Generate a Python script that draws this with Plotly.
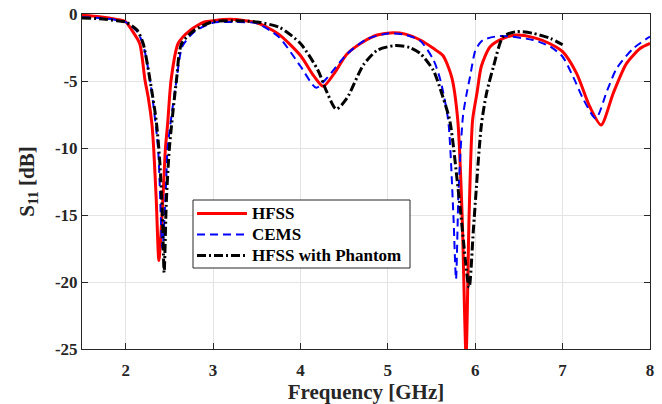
import plotly.graph_objects as go

# Reflection coefficient S11 (dB) versus frequency (GHz)
hfss_f = [1.5, 1.7, 1.9, 2.0, 2.07, 2.16, 2.22, 2.26, 2.30, 2.32, 2.35, 2.38, 2.425, 2.455, 2.48,
          2.52, 2.60, 2.74, 2.9, 3.0, 3.2, 3.5, 3.75, 4.0, 4.15, 4.26, 4.4, 4.53, 4.72,
          4.88, 5.06, 5.2, 5.37, 5.52, 5.63, 5.73, 5.80, 5.85, 5.895, 5.93, 5.97, 6.02,
          6.07, 6.17, 6.32, 6.47, 6.70, 6.85, 7.0, 7.16, 7.31, 7.44, 7.58, 7.73, 7.89, 8.0]
hfss_s = [-0.1, -0.2, -0.4, -0.57, -1.2, -2.2, -4.9, -6.3, -8.2, -10, -13.9, -18.4, -13.9, -10, -8.2,
          -4.9, -2.2, -1.2, -0.6, -0.5, -0.4, -0.65, -1.5, -3.1, -4.6, -5.4, -4.3, -3.0, -2.07,
          -1.57, -1.4, -1.5, -1.94, -2.56, -3.1, -4.7, -7.9, -15, -25.5, -15, -7.9, -5.9,
          -3.9, -2.44, -1.82, -1.57, -1.82, -2.2, -2.81, -4.43, -6.9, -8.28, -5.9, -3.7, -2.56, -2.19]

cems_f = [1.5, 1.7, 1.9, 2.0, 2.13, 2.20, 2.28, 2.37, 2.42, 2.46, 2.48, 2.58, 2.65, 2.79,
          3.0, 3.25, 3.5, 3.75, 4.0, 4.18, 4.3, 4.53, 4.75, 5.0, 5.2, 5.37, 5.52, 5.60,
          5.69, 5.75, 5.78, 5.81, 5.86, 5.90, 5.94, 6.0, 6.05, 6.09, 6.28, 6.66, 6.86,
          7.0, 7.12, 7.24, 7.38, 7.51, 7.62, 7.81, 8.0]
cems_s = [-0.25, -0.3, -0.45, -0.6, -1.3, -2.3, -5.0, -10, -17.5, -13, -10, -5, -2.4, -1.3,
          -0.65, -0.6, -0.7, -1.7, -3.9, -5.5, -4.8, -3.0, -1.9, -1.45, -1.55, -2.0, -3.4, -4.9,
          -7.9, -15, -19.8, -13, -7.6, -6.0, -4.7, -2.75, -2.2, -1.94, -1.64, -1.94, -2.44,
          -3.19, -4.68, -6.4, -7.8, -5.7, -4.05, -2.56, -1.69]

phantom_f = [1.5, 1.7, 1.9, 2.0, 2.13, 2.20, 2.28, 2.35, 2.39, 2.42, 2.44, 2.465, 2.50, 2.58,
             2.64, 2.79, 3.0, 3.25, 3.5, 3.76, 4.0, 4.2, 4.3, 4.41, 4.53, 4.72, 4.88, 5.08,
             5.25, 5.37, 5.52, 5.63, 5.71, 5.82, 5.93, 5.98, 6.07, 6.13, 6.21, 6.32, 6.47,
             6.66, 6.86, 7.0]
phantom_s = [-0.3, -0.35, -0.5, -0.6, -1.2, -2.2, -5.0, -8.0, -11, -15, -19.3, -14, -10, -5,
             -2.2, -1.2, -0.57, -0.5, -0.6, -1.0, -2.2, -4.2, -5.8, -7.1, -6.3, -3.8, -2.7, -2.36,
             -2.5, -2.94, -4.2, -6.2, -8.0, -14, -20.4, -16, -8.3, -5.9, -3.9, -1.69, -1.32,
             -1.44, -1.82, -2.3]

series_names = ["HFSS", "CEMS", "HFSS with Phantom"]
x_ticks = [2, 3, 4, 5, 6, 7, 8]
y_ticks = [0, -5, -10, -15, -20, -25]

FONT = "Liberation Serif"
AXIS_COLOR = "#262626"
GRID_COLOR = "#e4e4e4"

W, H = 662, 404
M_L, M_R, M_T, M_B = 82, 12, 14, 55

line_styles = [
    dict(color="#ff0000", width=3),
    dict(color="#0000ff", width=2, dash="8px,5px"),
    dict(color="#000000", width=3, dash="9px,3px,2px,3px"),
]

fig = go.Figure()
for name, xs, ys, style in zip(series_names,
                               [hfss_f, cems_f, phantom_f],
                               [hfss_s, cems_s, phantom_s],
                               line_styles):
    fig.add_trace(go.Scatter(
        x=xs, y=ys, mode="lines", name=name, showlegend=False,
        line=dict(shape="spline", smoothing=0.7, **style),
    ))

axis_common = dict(
    showline=True, linecolor=AXIS_COLOR, linewidth=1, mirror="ticks",
    ticks="inside", ticklen=6, tickcolor=AXIS_COLOR, tickwidth=1,
    showgrid=True, gridcolor=GRID_COLOR, gridwidth=1, zeroline=False,
    automargin=False,
    tickfont=dict(family=FONT, size=17, color=AXIS_COLOR, weight="bold"),
)

fig.update_xaxes(
    range=[1.5, 8], tickvals=x_ticks, ticktext=[str(v) for v in x_ticks],
    ticklabelstandoff=6,
    title=dict(text="Frequency [GHz]", standoff=8,
               font=dict(family=FONT, size=21, color=AXIS_COLOR, weight="bold")),
    **axis_common,
)
fig.update_yaxes(
    range=[-25, 0], tickvals=y_ticks, ticktext=[str(v) for v in y_ticks],
    title=dict(text="S<sub>11</sub> [dB]", standoff=14,
               font=dict(family=FONT, size=21, color=AXIS_COLOR, weight="bold")),
    **axis_common,
)


# Legend box drawn in pixel positions relative to the plotting area
def px_x(px):
    return (px - M_L) / (W - M_L - M_R)


def px_y(py):
    return (H - M_B - py) / (H - M_T - M_B)


legend_box = (193, 200, 410, 268)
row_y = [213.5, 234.5, 255.5]
sample_x0, sample_x1, text_x = 197, 247, 250

shapes = [dict(
    type="rect", xref="paper", yref="paper", layer="above",
    x0=px_x(legend_box[0]), x1=px_x(legend_box[2]),
    y0=px_y(legend_box[3]), y1=px_y(legend_box[1]),
    line=dict(color="#262626", width=1), fillcolor="white",
)]
annotations = []
for name, style, ry in zip(series_names, line_styles, row_y):
    shapes.append(dict(
        type="line", xref="paper", yref="paper", layer="above",
        x0=px_x(sample_x0), x1=px_x(sample_x1), y0=px_y(ry), y1=px_y(ry),
        line=style,
    ))
    annotations.append(dict(
        xref="paper", yref="paper", x=px_x(text_x), y=px_y(ry),
        xanchor="left", yanchor="middle", showarrow=False, text=name,
        font=dict(family=FONT, size=17, color="#000000", weight="bold"),
    ))

fig.update_layout(
    width=W, height=H,
    margin=dict(l=M_L, r=M_R, t=M_T, b=M_B),
    paper_bgcolor="white", plot_bgcolor="white",
    font=dict(family=FONT, color=AXIS_COLOR),
    showlegend=False,
    shapes=shapes, annotations=annotations,
)

fig.write_html("out.html")
